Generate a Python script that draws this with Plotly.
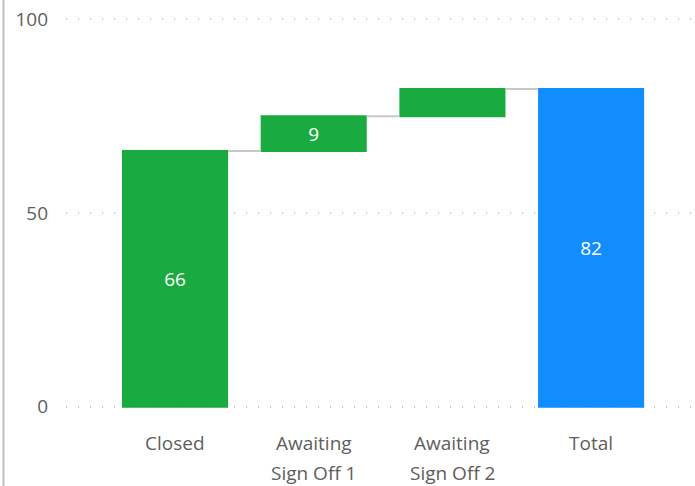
import plotly.graph_objects as go

categories = ["Closed", "Awaiting\nSign Off 1", "Awaiting\nSign Off 2", "Total"]
values = [66, 9, 7, 0]
measures = ["relative", "relative", "relative", "total"]
labels = ["66", "9", "", "82"]
y_ticks = [0, 50, 100]

W, H = 695, 486
pad_units = 0.6
ppu = 3.88
ml, mr = 66, 0
mt = round(19 - pad_units * ppu)
mb = round(79 - pad_units * ppu)
pw = W - ml - mr
ph = H - mt - mb

font_family = "Segoe UI, Open Sans, Noto Sans, sans-serif"
tick_color = "#605E5C"

fig = go.Figure(go.Waterfall(
    x=categories,
    y=values,
    measure=measures,
    text=labels,
    textposition="inside",
    insidetextanchor="middle",
    constraintext="none",
    textfont=dict(color="white", size=19, family=font_family),
    increasing=dict(marker=dict(color="#1AAB40")),
    decreasing=dict(marker=dict(color="#D64550")),
    totals=dict(marker=dict(color="#118DFF")),
    connector=dict(line=dict(color="#C8C8C8", width=2)),
    hoverinfo="skip",
))

# category labels with Power BI-like line spacing
annotations = []
for cat in categories:
    for i, line in enumerate(cat.split("\n")):
        annotations.append(dict(
            x=cat, y=0, xref="x", yref="y",
            text=line, showarrow=False,
            yanchor="middle", xanchor="center",
            yshift=-(36 + 30 * i),
            font=dict(size=19, color=tick_color, family=font_family),
        ))

fig.update_layout(
    width=W, height=H,
    margin=dict(l=ml, r=mr, t=mt, b=mb, pad=0),
    paper_bgcolor="white",
    plot_bgcolor="white",
    showlegend=False,
    waterfallgap=0.235,
    font=dict(family=font_family, size=19, color=tick_color),
    xaxis=dict(
        type="category",
        range=[-0.786, 3.749],
        showgrid=False, showline=False, zeroline=False,
        ticks="", showticklabels=False,
    ),
    yaxis=dict(
        range=[-pad_units, 100 + pad_units],
        tickvals=y_ticks,
        showgrid=True, gridcolor="#C8C8C8", gridwidth=1.5, griddash="1px,11px",
        zeroline=False, showline=False, ticks="",
        ticklabelstandoff=17,
        tickfont=dict(size=19, color=tick_color),
    ),
    annotations=annotations,
    shapes=[dict(
        type="line", xref="paper", yref="paper",
        x0=(3.5 - ml) / pw, x1=(3.5 - ml) / pw,
        y0=-(mb + 5) / ph, y1=1 + (mt + 5) / ph,
        line=dict(color="#C0C0C0", width=2),
    )],
)

fig.write_html("out.html", config={"displayModeBar": False},
               post_script="document.body.style.margin='0';")
